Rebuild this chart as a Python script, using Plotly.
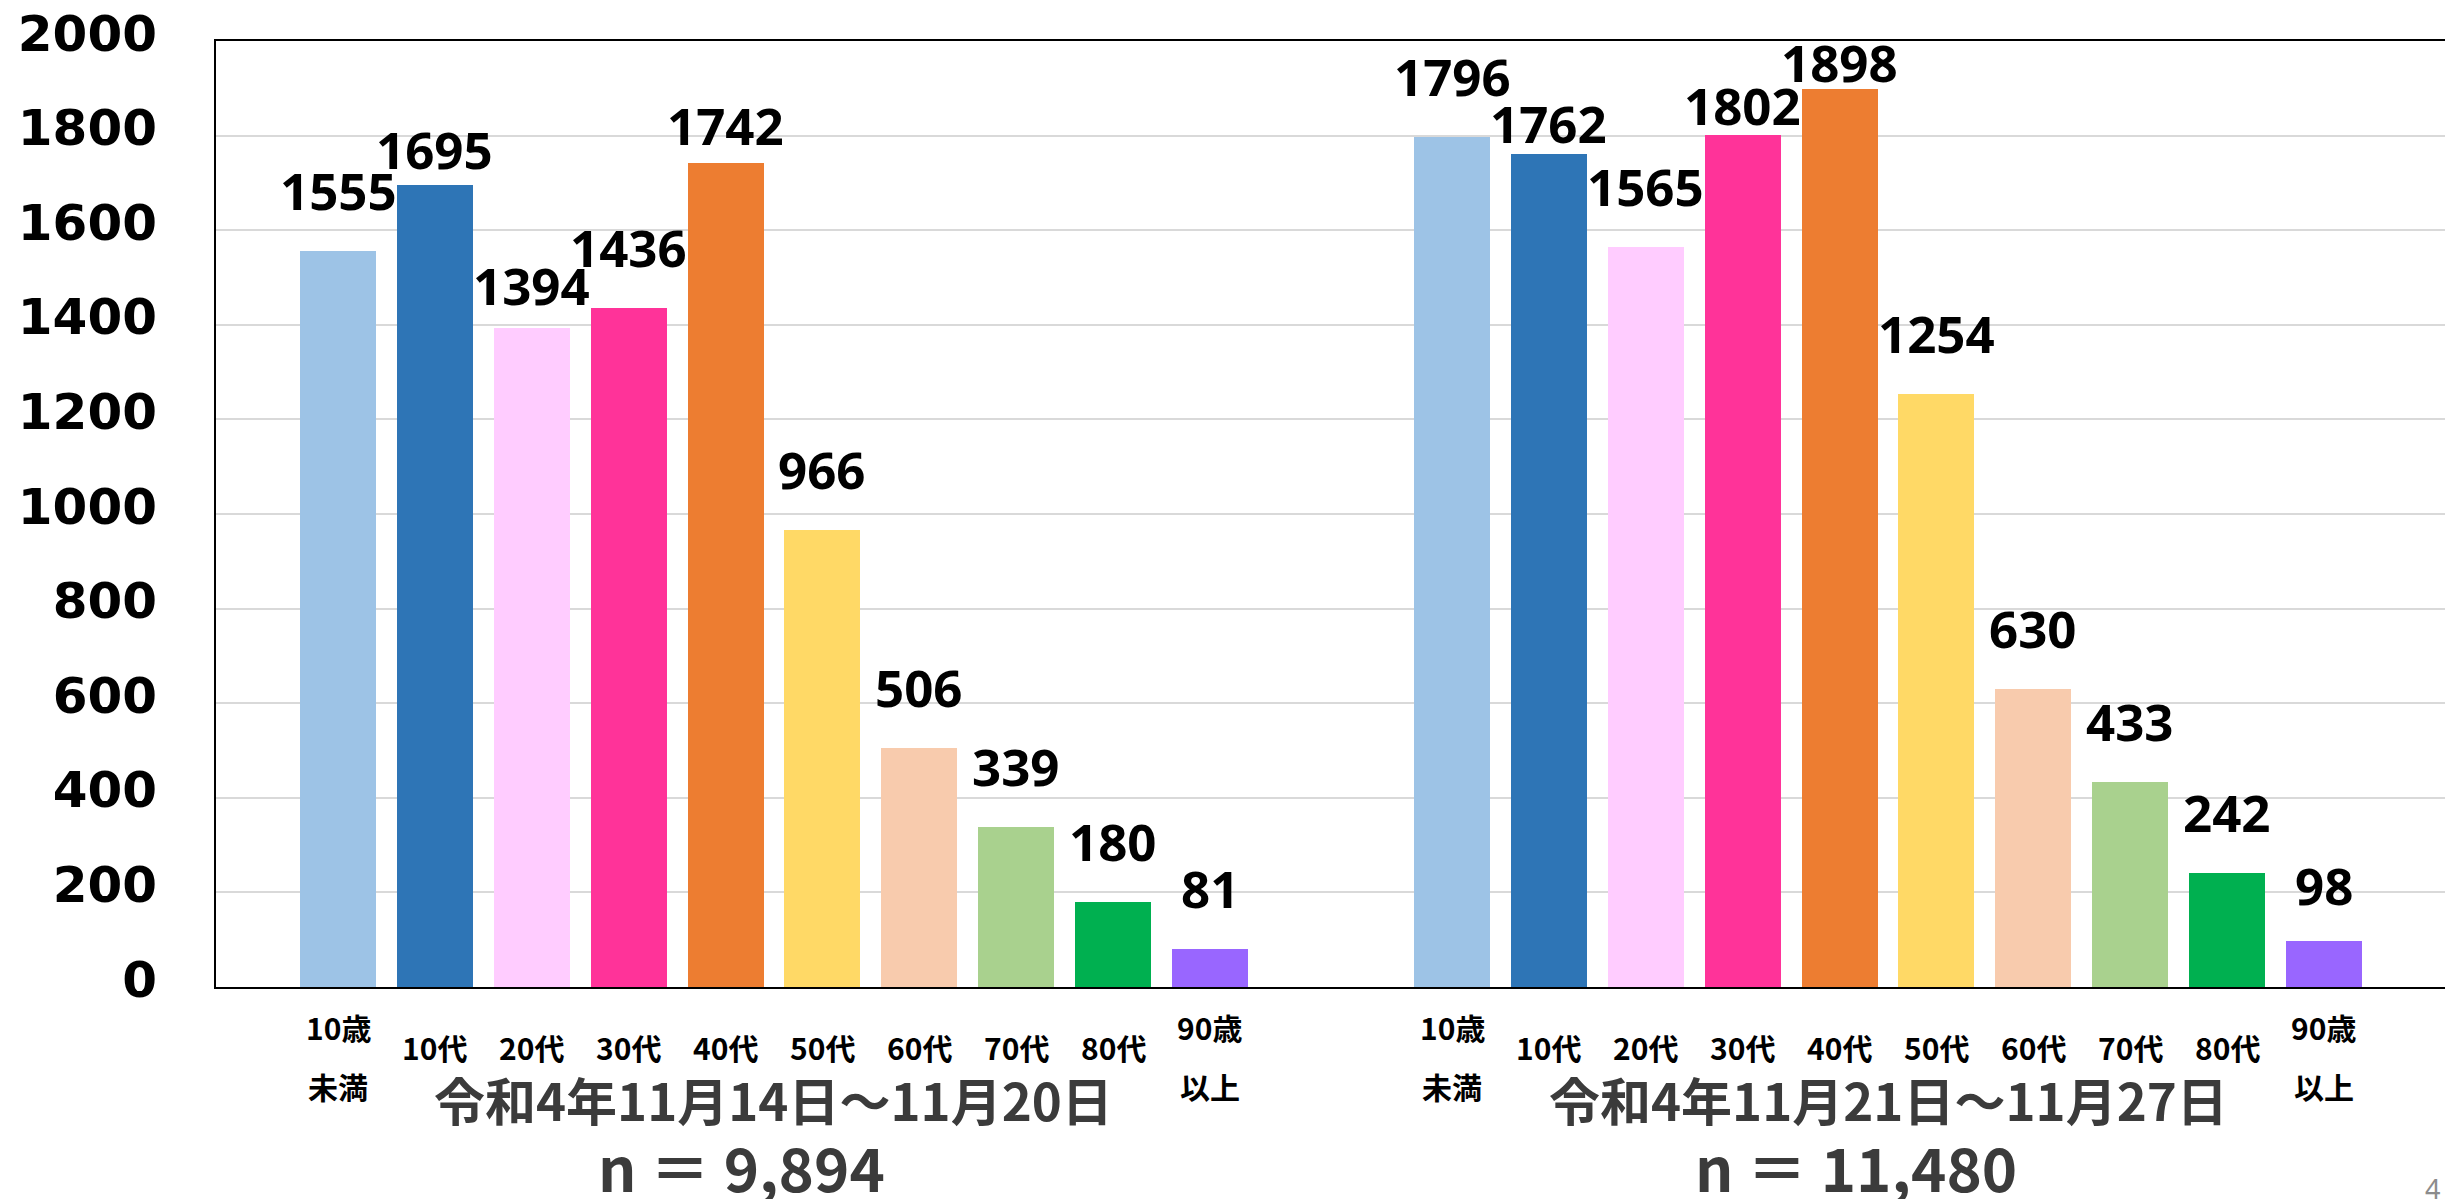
import plotly.graph_objects as go

# ---- data ----
categories = ["10歳\n未満", "10代", "20代", "30代", "40代", "50代", "60代", "70代", "80代", "90歳\n以上"]
period1_values = [1555, 1695, 1394, 1436, 1742, 966, 506, 339, 180, 81]
period2_values = [1796, 1762, 1565, 1802, 1898, 1254, 630, 433, 242, 98]
period_labels = ["令和4年11月14日～11月20日", "令和4年11月21日～11月27日"]
period_n = ["n ＝ 9,894", "n ＝ 11,480"]
y_ticks = [0, 200, 400, 600, 800, 1000, 1200, 1400, 1600, 1800, 2000]

# ---- style ----
bar_colors = ["#9DC3E6", "#2E75B6", "#FFCCFF", "#FF3399", "#ED7D31",
              "#FFD966", "#F8CBAD", "#A9D18E", "#00B050", "#9966FF"]
group_offsets = [0.0, 11.5]
bar_width = 0.785
default_lift = 61
# label lift overrides (group, index) -> pixels above bar top (overlap avoidance as in original)
lift_override = {(0, 1): 36, (0, 2): 43, (0, 4): 38,
                 (1, 1): 31, (1, 3): 30, (1, 4): 27, (1, 9): 56}
TEXT_DARK = "#3B3B3B"

fig = go.Figure()
annotations = []
series = [period1_values, period2_values]

for g, vals in enumerate(series):
    xs = [group_offsets[g] + i for i in range(len(categories))]
    fig.add_trace(go.Bar(
        x=xs, y=vals, width=bar_width,
        marker=dict(color=bar_colors, line=dict(width=0)),
        hoverinfo="y", showlegend=False,
    ))
    for i, (x, v) in enumerate(zip(xs, vals)):
        annotations.append(dict(
            x=x, y=v, xref="x", yref="y", text=str(v), showarrow=False,
            yanchor="middle", xanchor="center",
            yshift=lift_override.get((g, i), default_lift),
            font=dict(family="Noto Sans", size=51, color="black", weight="bold"),
        ))
    # category labels
    for x, cat in zip(xs, categories):
        lines = cat.split("\n")
        shifts = [-60] if len(lines) == 1 else [-40, -99]
        for line, s in zip(lines, shifts):
            annotations.append(dict(
                x=x, y=0, xref="x", yref="paper", text=line, showarrow=False,
                yanchor="middle", xanchor="center", yshift=s,
                font=dict(family="Noto Sans CJK JP", size=30, color="black", weight="bold"),
            ))
    center = group_offsets[g] + (len(categories) - 1) / 2
    annotations.append(dict(
        x=center, y=0, xref="x", yref="paper", text=period_labels[g], showarrow=False,
        yanchor="middle", xanchor="center", yshift=-112,
        font=dict(family="Noto Sans CJK JP", size=51, color=TEXT_DARK, weight="bold"),
    ))
    annotations.append(dict(
        x=center, y=0, xref="x", yref="paper", text=period_n[g], showarrow=False,
        yanchor="middle", xanchor="center", yshift=-178, xshift=-32,
        font=dict(family="Noto Sans CJK JP", size=60, color=TEXT_DARK, weight="bold"),
    ))

annotations.append(dict(
    x=1, y=0, xref="paper", yref="paper", text="4", showarrow=False,
    xanchor="right", yanchor="middle", xshift=-4, yshift=-201,
    font=dict(family="Noto Sans", size=27, color="#8C8C8C"),
))

# page body has an 8px default margin; figure sized to fit the window exactly
fig.update_layout(
    width=2445, height=1191,
    margin=dict(l=208, r=7, t=33, b=212, autoexpand=False),
    paper_bgcolor="white", plot_bgcolor="white",
    bargap=0, annotations=annotations,
    xaxis=dict(range=[-1.26, 21.76], showticklabels=False, showgrid=False,
               zeroline=False, showline=True, mirror=True, linecolor="black",
               linewidth=2, ticks=""),
    yaxis=dict(range=[0, 2000], tickvals=y_ticks, showgrid=True,
               gridcolor="#D9D9D9", gridwidth=2, zeroline=False,
               showline=True, mirror=True, linecolor="black", linewidth=2,
               ticks="", ticklabelshift=-8, ticklabelstandoff=47,
               ticklabeloverflow="allow",
               tickfont=dict(family="DejaVu Sans", size=50, color="black", weight="bold")),
)

fig.write_html("out.html")
